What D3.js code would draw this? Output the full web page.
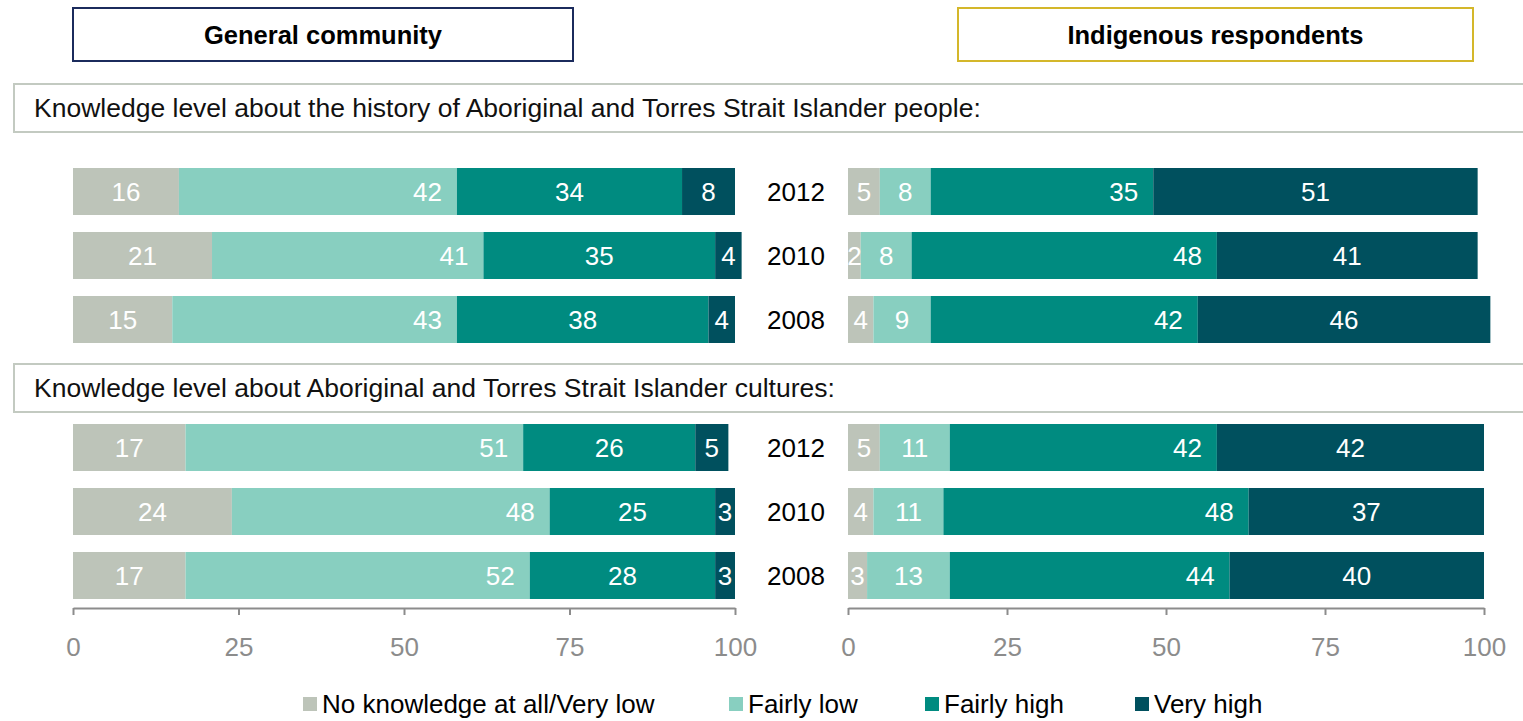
<!DOCTYPE html>
<html>
<head>
<meta charset="utf-8">
<script src="https://cdn.jsdelivr.net/npm/d3@7"></script>
<style>
  html, body { margin: 0; padding: 0; background: #fff; }
  svg { display: block; font-family: "Liberation Sans", Arial, sans-serif; }
</style>
</head>
<body>
<svg id="chart" width="1523" height="721"></svg>
<script>
// Survey knowledge levels, percent of respondents
const years = ["2012", "2010", "2008"];
const series = ["No knowledge at all/Very low", "Fairly low", "Fairly high", "Very high"];
const colors = ["#bdc4b9", "#88cfc0", "#008b80", "#00505e"];
const ticks = [0, 25, 50, 75, 100];

// General community — history, then cultures (rows: 2012, 2010, 2008)
const generalHistory = [[16, 42, 34, 8], [21, 41, 35, 4], [15, 43, 38, 4]];
const generalCultures = [[17, 51, 26, 5], [24, 48, 25, 3], [17, 52, 28, 3]];
// Indigenous respondents
const indigenousHistory = [[5, 8, 35, 51], [2, 8, 48, 41], [4, 9, 42, 46]];
const indigenousCultures = [[5, 11, 42, 42], [4, 11, 48, 37], [3, 13, 44, 40]];

const panelTitles = ["General community", "Indigenous respondents"];
const sectionTitles = [
  "Knowledge level about the history of Aboriginal and Torres Strait Islander people:",
  "Knowledge level about Aboriginal and Torres Strait Islander cultures:"
];

const FS = 26;
const svg = d3.select("#chart");

const xLeft = d3.scaleLinear().domain([0, 100]).range([73, 735]);
const xRight = d3.scaleLinear().domain([0, 100]).range([848, 1484]);

const yGroups = [
  d3.scaleBand().domain(years).range([168, 343]).paddingInner(17 / 64).paddingOuter(0),
  d3.scaleBand().domain(years).range([424, 599]).paddingInner(17 / 64).paddingOuter(0)
];

// Header boxes
const headers = [
  { text: panelTitles[0], x0: 73, x1: 573, stroke: "#1b2b5c" },
  { text: panelTitles[1], x0: 958, x1: 1473, stroke: "#d4b72a" }
];
headers.forEach(h => {
  svg.append("rect").attr("x", h.x0).attr("y", 8).attr("width", h.x1 - h.x0).attr("height", 53)
    .attr("fill", "#fff").attr("stroke", h.stroke).attr("stroke-width", 2);
  svg.append("text").attr("x", (h.x0 + h.x1) / 2).attr("y", 35).attr("dy", "0.35em")
    .attr("text-anchor", "middle").attr("font-weight", "bold").attr("font-size", 25.5)
    .attr("fill", "#000").text(h.text);
});

// Section title boxes
const sectionBoxes = [{ y0: 84, y1: 132 }, { y0: 364, y1: 412 }];
sectionBoxes.forEach((b, i) => {
  svg.append("rect").attr("x", 14).attr("y", b.y0).attr("width", 1540).attr("height", b.y1 - b.y0)
    .attr("fill", "#fff").attr("stroke", "#c3cac1").attr("stroke-width", 2);
  svg.append("text").attr("x", 34).attr("y", (b.y0 + b.y1) / 2).attr("dy", "0.35em")
    .attr("font-size", 26.5).attr("fill", "#111").text(sectionTitles[i]);
});

// Label placement per series: "c" = centred, "e" = inside end
const leftPlacement = ["c", "e", "c", "c"];
const rightPlacement = ["c", "c", "e", "c"];

function drawPanel(data, x, y, placement) {
  data.forEach((row, ri) => {
    const yr = years[ri];
    let acc = 0;
    const segs = row.map((v, si) => {
      const s = { v, si, x0: acc, x1: acc + v };
      acc += v;
      return s;
    });
    const g = svg.append("g");
    g.selectAll("rect").data(segs).join("rect")
      .attr("x", d => x(d.x0))
      .attr("y", y(yr))
      .attr("width", d => x(d.x1) - x(d.x0))
      .attr("height", y.bandwidth())
      .attr("fill", d => colors[d.si]);
    g.selectAll("text").data(segs).join("text")
      .attr("x", d => placement[d.si] === "e" ? x(d.x1) - 15 : (x(d.x0) + x(d.x1)) / 2)
      .attr("text-anchor", d => placement[d.si] === "e" ? "end" : "middle")
      .attr("y", y(yr) + y.bandwidth() / 2)
      .attr("dy", "0.35em")
      .attr("font-size", FS)
      .attr("fill", "#fff")
      .text(d => d.v);
  });
}

drawPanel(generalHistory, xLeft, yGroups[0], leftPlacement);
drawPanel(generalCultures, xLeft, yGroups[1], leftPlacement);
drawPanel(indigenousHistory, xRight, yGroups[0], rightPlacement);
drawPanel(indigenousCultures, xRight, yGroups[1], rightPlacement);

// Year labels between the panels
yGroups.forEach(y => {
  svg.append("g").selectAll("text").data(years).join("text")
    .attr("x", 796).attr("y", d => y(d) + y.bandwidth() / 2).attr("dy", "0.35em")
    .attr("text-anchor", "middle").attr("font-size", FS).attr("fill", "#000")
    .text(d => d);
});

// Axes
[xLeft, xRight].forEach(x => {
  const ax = svg.append("g").attr("transform", "translate(0,608)")
    .call(d3.axisBottom(x).tickValues(ticks).tickSize(7).tickSizeOuter(0).tickPadding(23));
  ax.select(".domain").attr("stroke", "#8c8c8c").attr("stroke-width", 2);
  ax.selectAll(".tick line").attr("stroke", "#8c8c8c").attr("stroke-width", 2);
  ax.selectAll(".tick text").attr("fill", "#8c8c8c").attr("font-size", FS)
    .attr("font-family", "\"Liberation Sans\", Arial, sans-serif");
});

// Legend
const legendX = [303, 729, 925, 1135];
const legend = svg.append("g").selectAll("g").data(series).join("g")
  .attr("transform", (d, i) => `translate(${legendX[i]},704)`);
legend.append("rect").attr("x", 0).attr("y", -7).attr("width", 14).attr("height", 14)
  .attr("fill", (d, i) => colors[i]);
legend.append("text").attr("x", 19).attr("dy", "0.35em").attr("font-size", 26)
  .attr("fill", "#000").text(d => d);
</script>
</body>
</html>
